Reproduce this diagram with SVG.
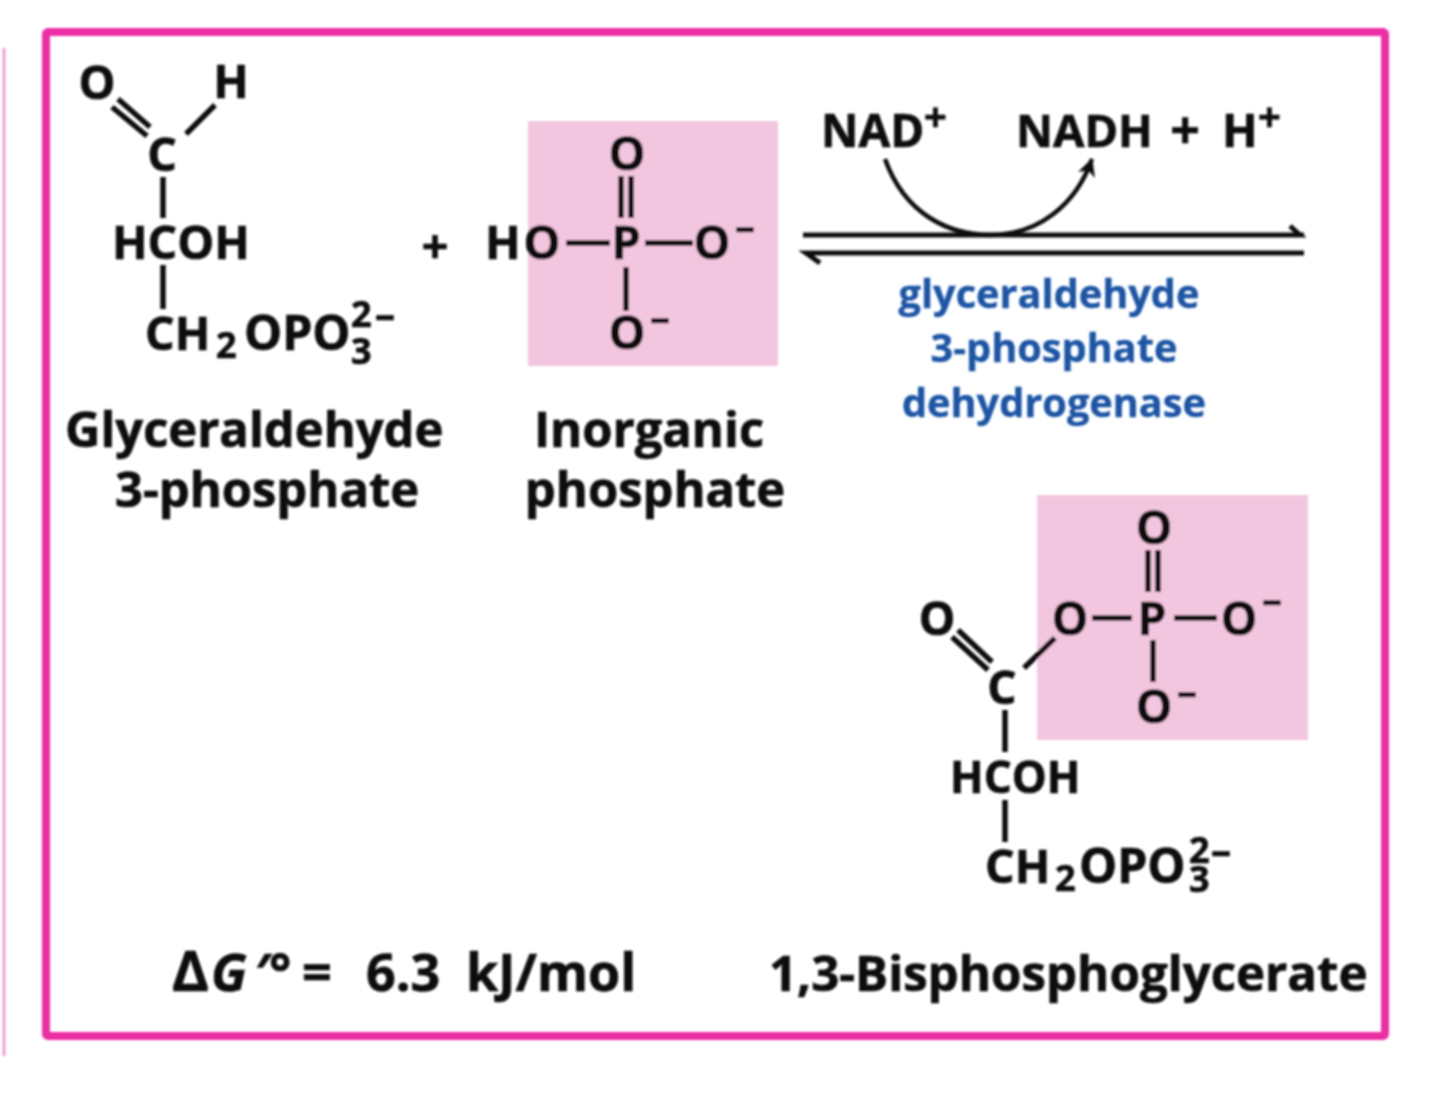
<svg xmlns="http://www.w3.org/2000/svg" width="1440" height="1100" viewBox="0 0 1440 1100">
<style>
text{font-family:"Open Sans","Noto Sans","Liberation Sans",sans-serif;font-weight:700;fill:#111;stroke:#111;stroke-width:.7}
.a{font-size:46.5px}
.c{font-size:46px}
.o{font-size:48px}
.s{font-size:36px}
.n{font-size:40px}
.p{font-size:40px}
.l{font-size:48.9px}
.d{font-size:52px}
.b{font-size:39.7px;fill:#1c55a5;stroke:#1c55a5;stroke-width:.4}
.m{text-anchor:middle}
.bond{stroke:#111;stroke-width:5.5;fill:none}
.pink{fill:#f3c6df}
</style>
<defs>
<filter id="soft" x="-5%" y="-5%" width="110%" height="110%"><feGaussianBlur stdDeviation="0.9"/></filter>
<marker id="curveHead" markerUnits="userSpaceOnUse" markerWidth="24" markerHeight="24" refX="17" refY="9" orient="auto"><path d="M0 0L18 9L0 18L5 9Z" fill="#111"/></marker>
</defs>
<rect width="1440" height="1100" fill="#fff"/>
<g filter="url(#soft)">
<g id="page-edge"><line x1="4" y1="48" x2="4" y2="1056" stroke="#f0a0d6" stroke-width="3"/></g>
<g id="frame"><rect x="46" y="32" width="1339" height="1004" fill="none" stroke="#ec2fa4" stroke-width="8" rx="2"/></g>
<g id="phosphate-highlight-1"><rect class="pink" x="528" y="121" width="250" height="245"/></g>
<g id="phosphate-highlight-2"><rect class="pink" x="1037" y="495" width="271" height="245"/></g>

<g id="connectors">
<path class="bond" d="M112 107L147 136M118 99L150 127M186 134L215 105M163 177V218M163 265V309"/>
<path class="bond" d="M621 176V218M631 176V218M566 243H610M645 243H693M626 267V311"/>
<path class="bond" d="M952 637L988 670M958 630L992 662M1024 668L1055 638M1092 618H1132M1174 618H1217M1153 640V682M1148 550V592M1158 550V592M1005 710V752M1005 800V842"/>
<path d="M803 235H1300L1290 226M1304 235H1300" fill="none" stroke="#111" stroke-width="5"/>
<path d="M1304 253H806L820 263" fill="none" stroke="#111" stroke-width="5"/>
<path d="M885 159C905 215 950 235 990 235C1038 235 1076 205 1092 159" fill="none" stroke="#111" stroke-width="4.5" marker-end="url(#curveHead)"/>
</g>

<g id="glyceraldehyde-3-phosphate">
<text class="a m" x="97" y="99">O</text>
<text class="a m" x="231" y="98">H</text>
<text class="a m" x="162" y="171">C</text>
<text class="a" x="112" y="259">HCOH</text>
<text class="a" x="145" y="350">CH</text><text class="s" x="216" y="358">2</text><text class="o" x="244" y="350">OPO</text>
<text class="s" x="351" y="327">2</text><text class="n" x="375" y="328">–</text><text class="s" x="351" y="364">3</text>
<text class="l" x="65" y="447">Glyceraldehyde</text>
<text class="l" x="115" y="507">3-phosphate</text>
</g>
<g id="plus"><text class="a m" x="435" y="263">+</text></g>
<g id="inorganic-phosphate">
<text class="a" x="485" y="259">H</text>
<text class="a m" x="542" y="259">O</text>
<text class="a m" x="627" y="170">O</text>
<text class="a m" x="626" y="259">P</text>
<text class="a m" x="712" y="259">O</text>
<text class="n" x="735" y="240">–</text>
<text class="a m" x="627" y="349">O</text>
<text class="n" x="650" y="331">–</text>
<text class="l m" x="649" y="447">Inorganic</text>
<text class="l m" x="655" y="507">phosphate</text>
</g>
<g id="cofactors">
<text class="a" x="821" y="147" style="font-size:46px">NAD</text><text class="p" x="924" y="131">+</text>
<text class="a" x="1016" y="147" style="font-size:45.5px">NADH</text>
<text class="d m" x="1185" y="149">+</text>
<text class="a" x="1222" y="147">H</text><text class="p" x="1258" y="131">+</text>
</g>
<g id="enzyme">
<text class="b m" x="1049" y="308">glyceraldehyde</text>
<text class="b m" x="1054" y="362">3-phosphate</text>
<text class="b m" x="1054" y="417">dehydrogenase</text>
</g>
<g id="bisphosphoglycerate">
<text class="c m" x="937" y="635">O</text>
<text class="c m" x="1002" y="704">C</text>
<text class="c m" x="1070" y="635">O</text>
<text class="c m" x="1152" y="635">P</text>
<text class="c m" x="1239" y="635">O</text>
<text class="n" x="1262" y="613">–</text>
<text class="c m" x="1154" y="544">O</text>
<text class="c m" x="1154" y="723">O</text>
<text class="n" x="1177" y="705">–</text>
<text class="a" x="950" y="793" style="font-size:44px">HCOH</text>
<text class="a" x="985" y="883">CH</text><text class="s" x="1055" y="891">2</text><text class="o" x="1079" y="883">OPO</text>
<text class="s" x="1189" y="863">2</text><text class="n" x="1211" y="864">–</text><text class="s" x="1189" y="892">3</text>
<text class="l" x="769" y="991" style="font-size:49.2px">1,3-Bisphosphoglycerate</text>
</g>
<g id="delta-g">
<text class="d" x="172" y="991" style="font-size:56px">Δ</text>
<text class="d" x="211" y="991" font-style="italic">G</text>
<text class="d" x="254" y="991" font-style="italic">′</text>
<text class="d" x="269" y="991">°</text>
<text class="d" x="302" y="991">=</text>
<text class="d" x="366" y="991">6.3</text>
<text class="d" x="466" y="991">kJ/mol</text>
</g>
</g>
</svg>
